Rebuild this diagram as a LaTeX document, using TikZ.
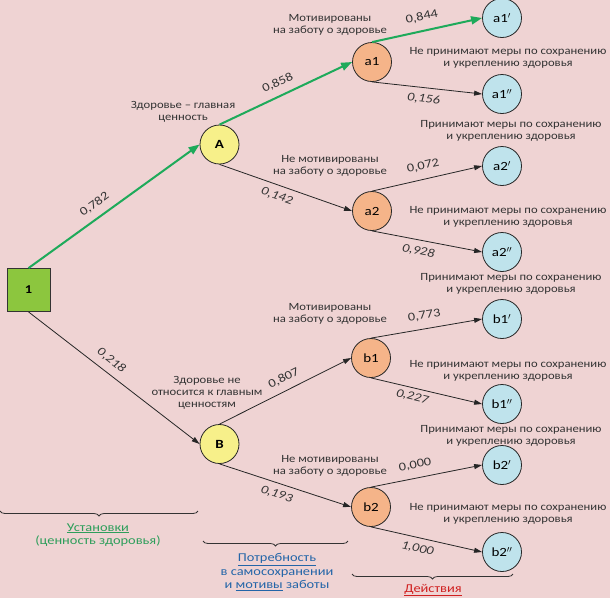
\documentclass[tikz,border=0pt]{standalone}
\usepackage{fontspec}
\setmainfont{Carlito}[FakeStretch=1.2]
\newfontfamily\descfont{Carlito}[FakeStretch=1.15]
\usetikzlibrary{arrows.meta,decorations.pathreplacing}
\definecolor{bg}{HTML}{EFD3D3}
\definecolor{sqfill}{HTML}{8CC63E}
\definecolor{yelfill}{HTML}{F7F08A}
\definecolor{orgfill}{HTML}{F5B489}
\definecolor{blufill}{HTML}{BFE3EC}
\definecolor{gline}{HTML}{1EAA5A}
\definecolor{txt}{HTML}{333333}
\definecolor{ustgreen}{HTML}{2E9E5B}
\definecolor{potblue}{HTML}{2365A8}
\definecolor{deired}{HTML}{D02020}
\tikzset{
  sqnode/.style={draw=black!80, fill=sqfill, minimum size=43pt, inner sep=0pt, line width=0.8pt, font=\fontsize{12}{14}\selectfont\bfseries},
  circnode/.style={circle, draw=black!85, minimum size=39pt, inner sep=0pt, line width=0.8pt, font=\fontsize{12.5}{14}\selectfont},
  yelnode/.style={circnode, fill=yelfill, font=\fontsize{12.5}{14}\selectfont\bfseries},
  orgnode/.style={circnode, fill=orgfill},
  blunode/.style={circnode, fill=blufill},
  garrow/.style={draw=gline, line width=2pt, -{Triangle[length=11pt,width=8pt]}},
  barrow/.style={draw=black!85, line width=0.8pt, -{Triangle[length=8pt,width=5pt]}},
  elab/.style={sloped, text=txt, font=\fontsize{12}{14}\selectfont, inner sep=2pt},
  elabi/.style={elab, font=\fontsize{12}{14}\selectfont\itshape},
  desc/.style={align=center, text=txt, font=\descfont\fontsize{11}{11.8}\selectfont, inner sep=0pt},
  bracestyle/.style={draw=black!80, line width=0.8pt, decorate, decoration={brace, mirror, amplitude=5pt}}
}
\begin{document}
\begin{tikzpicture}[x=1pt, y=-1pt]
\fill[bg] (0,0) rectangle (610,598);
\useasboundingbox (0,0) rectangle (610,598);

% nodes
\node[sqnode] (n1) at (28.5,290) {1};
\node[yelnode] (A) at (219.5,144.5) {A};
\node[yelnode] (B) at (219.5,444) {B};
\node[orgnode] (a1) at (372,62) {a1};
\node[orgnode] (a2) at (372,211) {a2};
\node[orgnode] (b1) at (371,358) {b1};
\node[orgnode] (b2) at (371,507) {b2};
\node[blunode] (a1p) at (502,18) {a1$'$};
\node[blunode] (a1pp) at (502,94) {a1$''$};
\node[blunode] (a2p) at (502,166) {a2$'$};
\node[blunode] (a2pp) at (502,252) {a2$''$};
\node[blunode] (b1p) at (502,319) {b1$'$};
\node[blunode] (b1pp) at (502,404) {b1$''$};
\node[blunode] (b2p) at (502,465) {b2$'$};
\node[blunode] (b2pp) at (502,552) {b2$''$};

% edges
\draw[garrow] (n1.north) -- node[elab, above=5pt, pos=0.43] {0,782} (A.west);
\draw[barrow] (n1.south) -- node[elabi, above=5pt, pos=0.44] {0,218} (B.west);
\draw[garrow] (A.north) -- node[elab, above=5pt, pos=0.48] {0,858} (a1.west);
\draw[barrow] (A.south) -- node[elabi, below=4pt, pos=0.46] {0,142} (a2.west);
\draw[garrow] (a1.north) -- node[elab, above=6pt, pos=0.48] {0,844} (a1p.west);
\draw[barrow] (a1.south) -- node[elabi, below=4pt, pos=0.48] {0,156} (a1pp.west);
\draw[barrow] (a2.north) -- node[elab, above=6pt, pos=0.49] {0,072} (a2p.west);
\draw[barrow] (a2.south) -- node[elabi, below=4pt, pos=0.44] {0,928} (a2pp.west);
\draw[barrow] (B.north) -- node[elab, above=5pt, pos=0.53] {0,807} (b1.west);
\draw[barrow] (B.south) -- node[elabi, below=4pt, pos=0.46] {0,193} (b2.west);
\draw[barrow] (b1.north) -- node[elab, above=6pt, pos=0.5] {0,773} (b1p.west);
\draw[barrow] (b1.south) -- node[elabi, below=2pt, pos=0.39] {0,227} (b1pp.west);
\draw[barrow] (b2.north) -- node[elab, above=6pt, pos=0.42] {0,000} (b2p.west);
\draw[barrow] (b2.south) -- node[elabi, below=4pt, pos=0.44] {1,000} (b2pp.west);

% descriptions
\node[desc] (d1) at (183,112) {Здоровье – главная\\ценность};
\node[desc] (d2) at (330,25) {Мотивированы\\на заботу о здоровье};
\node[desc] (d3) at (508,58) {Не принимают меры по сохранению\\и укреплению здоровья};
\node[desc] (d4) at (511,131) {Принимают меры по сохранению\\и укреплению здоровья};
\node[desc] (d5) at (330,166) {Не мотивированы\\на заботу о здоровье};
\node[desc] (d6) at (508,217) {Не принимают меры по сохранению\\и укреплению здоровья};
\node[desc] (d7) at (511,284) {Принимают меры по сохранению\\и укреплению здоровья};
\node[desc] (d8) at (330,314) {Мотивированы\\на заботу о здоровье};
\node[desc] (d9) at (508,371) {Не принимают меры по сохранению\\и укреплению здоровья};
\node[desc] (d10) at (207,393) {Здоровье не\\относится к главным\\ценностям};
\node[desc] (d11) at (511,436) {Принимают меры по сохранению\\и укреплению здоровья};
\node[desc] (d12) at (330,466) {Не мотивированы\\на заботу о здоровье};
\node[desc] (d13) at (508,514) {Не принимают меры по сохранению\\и укреплению здоровья};

% braces
\coordinate (br1s) at (0,511);
\coordinate (br1e) at (198,511);
\coordinate (br2s) at (203,541);
\coordinate (br2e) at (348,541);
\coordinate (br3s) at (352,574);
\coordinate (br3e) at (513,574);
\draw[bracestyle] (br1s) -- (br1e);
\draw[bracestyle] (br2s) -- (br2e);
\draw[bracestyle] (br3s) -- (br3e);

\node[desc, text=ustgreen, font=\fontsize{12}{13.5}\selectfont] (t1) at (98,535) {\underline{Установки}\\(ценность здоровья)};
\node[desc, text=potblue, font=\fontsize{12}{13.5}\selectfont] (t2) at (277,572) {\underline{Потребность}\\в самосохранении\\и \underline{мотивы} заботы};
\node[desc, text=deired, font=\fontsize{12}{13.5}\selectfont] (t3) at (433,590) {\underline{Действия}};
\end{tikzpicture}
\end{document}
